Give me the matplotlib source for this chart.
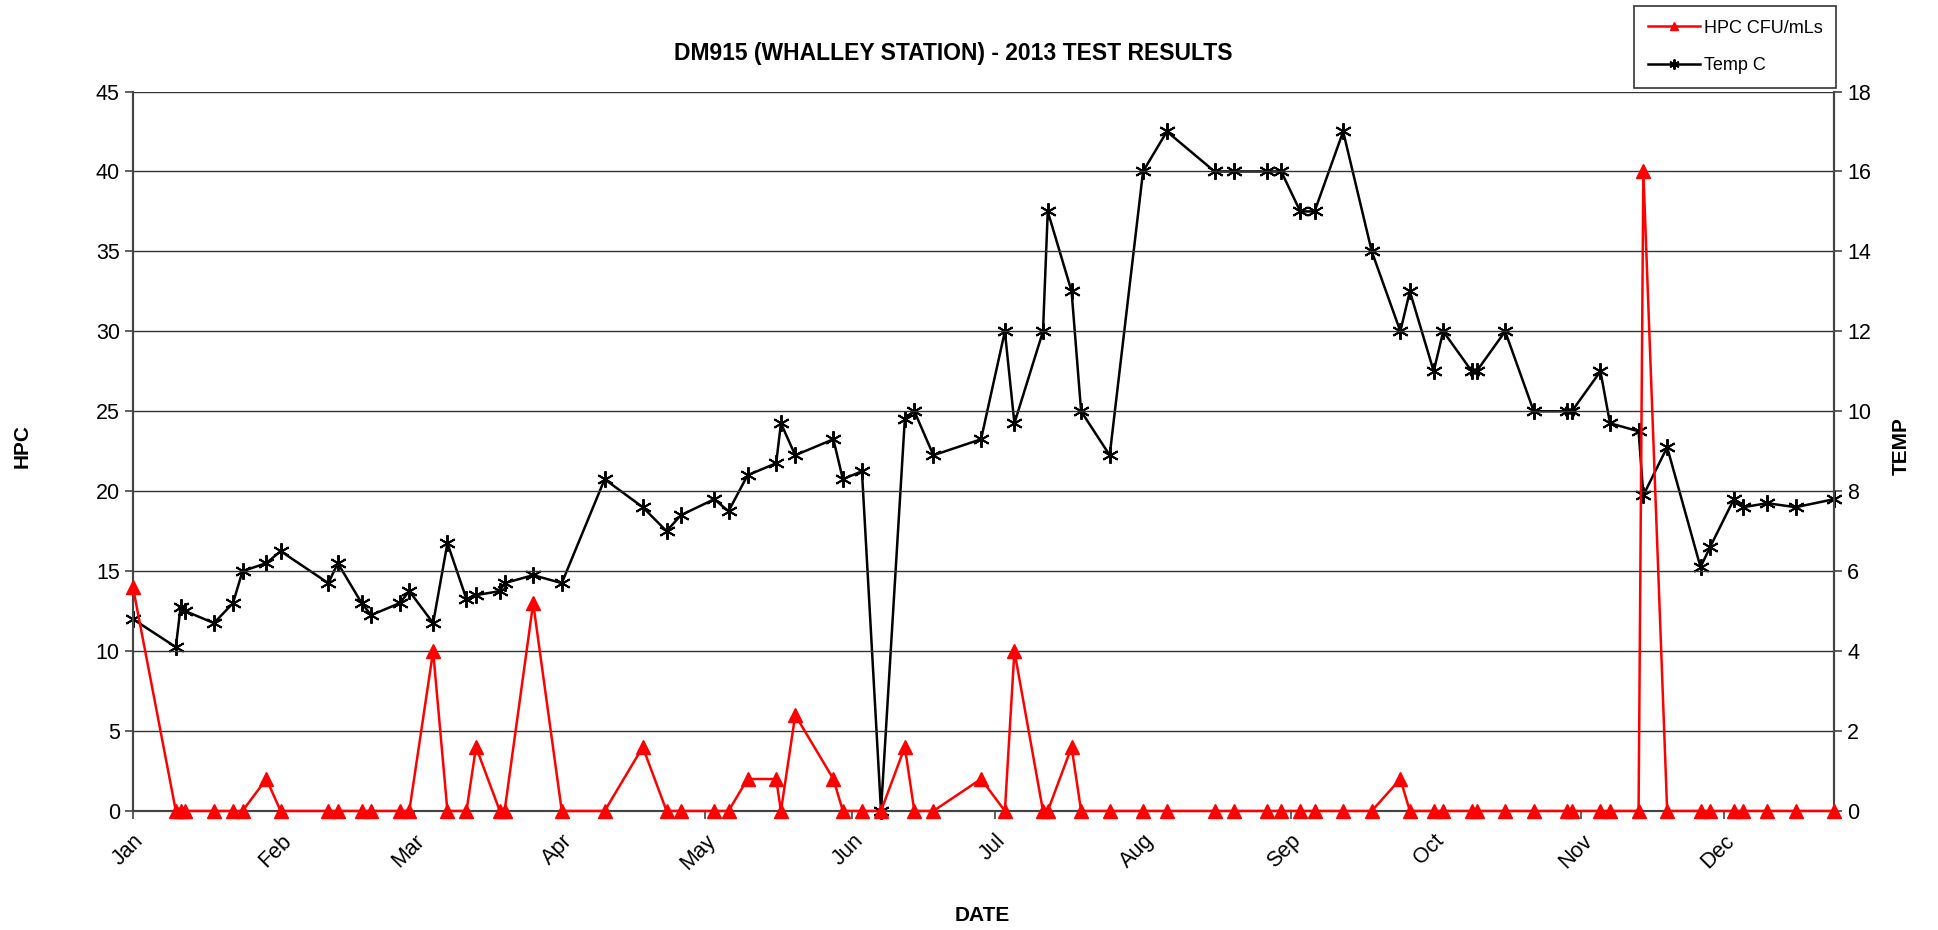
import numpy as np
import pandas as pd
import matplotlib
matplotlib.use('Agg')
import matplotlib.pyplot as plt

plt.rcParams['font.family'] = ['Liberation Sans', 'DejaVu Sans']

# 측정 날짜 (2013)
dates = ['2013-01-01', '2013-01-10', '2013-01-11', '2013-01-12', '2013-01-18', '2013-01-22',
         '2013-01-24', '2013-01-29', '2013-02-01', '2013-02-11', '2013-02-13', '2013-02-18',
         '2013-02-20', '2013-02-26', '2013-02-28', '2013-03-05', '2013-03-08', '2013-03-12',
         '2013-03-14', '2013-03-19', '2013-03-20', '2013-03-26', '2013-04-01', '2013-04-10',
         '2013-04-18', '2013-04-23', '2013-04-26', '2013-05-03', '2013-05-06', '2013-05-10',
         '2013-05-16', '2013-05-17', '2013-05-20', '2013-05-28', '2013-05-30', '2013-06-03',
         '2013-06-07', '2013-06-12', '2013-06-14', '2013-06-18', '2013-06-28', '2013-07-03',
         '2013-07-05', '2013-07-11', '2013-07-12', '2013-07-17', '2013-07-19', '2013-07-25',
         '2013-08-01', '2013-08-06', '2013-08-16', '2013-08-20', '2013-08-27', '2013-08-30',
         '2013-09-03', '2013-09-06', '2013-09-12', '2013-09-18', '2013-09-24', '2013-09-26',
         '2013-10-01', '2013-10-03', '2013-10-09', '2013-10-10', '2013-10-16', '2013-10-22',
         '2013-10-29', '2013-10-30', '2013-11-05', '2013-11-07', '2013-11-13', '2013-11-14',
         '2013-11-19', '2013-11-26', '2013-11-28', '2013-12-03', '2013-12-05', '2013-12-10',
         '2013-12-16', '2013-12-24']

# HPC CFU/mLs
hpc = [14, 0, 0, 0, 0, 0, 0, 2, 0, 0,
       0, 0, 0, 0, 0, 10, 0, 0, 4, 0,
       0, 13, 0, 0, 4, 0, 0, 0, 0, 2,
       2, 0, 6, 2, 0, 0, 0, 4, 0, 0,
       2, 0, 10, 0, 0, 4, 0, 0, 0, 0,
       0, 0, 0, 0, 0, 0, 0, 0, 2, 0,
       0, 0, 0, 0, 0, 0, 0, 0, 0, 0,
       0, 40, 0, 0, 0, 0, 0, 0, 0, 0]

# Temp C
temp = [4.8, 4.1, 5.1, 5.0, 4.7, 5.2, 6.0, 6.2, 6.5, 5.7,
        6.2, 5.2, 4.9, 5.2, 5.5, 4.7, 6.7, 5.3, 5.4, 5.5,
        5.7, 5.9, 5.7, 8.3, 7.6, 7.0, 7.4, 7.8, 7.5, 8.4,
        8.7, 9.7, 8.9, 9.3, 8.3, 8.5, 0, 9.8, 10, 8.9,
        9.3, 12, 9.7, 12, 15, 13, 10, 8.9, 16, 17,
        16, 16, 16, 16, 15, 15, 17, 14, 12, 13,
        11, 12, 11, 11, 12, 10, 10, 10, 11, 9.7,
        9.5, 7.9, 9.1, 6.1, 6.6, 7.8, 7.6, 7.7, 7.6, 7.8]

month_labels = ['Jan', 'Feb', 'Mar', 'Apr', 'May', 'Jun',
                'Jul', 'Aug', 'Sep', 'Oct', 'Nov', 'Dec']

x = pd.to_datetime(dates)

fig = plt.figure(figsize=(19.38, 9.30), dpi=100)
ax = fig.add_axes([0.0686, 0.128, 0.8777, 0.7736])
ax2 = ax.twinx()

# 선 그리기 (마커가 축 경계에서 잘리지 않도록 clip_on=False)
l1, = ax.plot(x, hpc, color='#ff0000', lw=1.8, marker='^', ms=10, mec='#ff0000',
              label='HPC CFU/mLs', zorder=3, clip_on=False)
l2, = ax2.plot(x, temp, color='black', lw=1.8, marker=(6, 2, 0), ms=12, mew=1.4,
               label='Temp C', zorder=3, clip_on=False)
ax.set_zorder(ax2.get_zorder() + 1)
ax.patch.set_visible(False)

# 축 범위
ax.set_xlim(x[0], x[-1])
ax.set_ylim(0, 45)
ax2.set_ylim(0, 18)
ax.set_yticks(np.arange(0, 46, 5))
ax2.set_yticks(np.arange(0, 19, 2))

month_ticks = pd.date_range('2013-01-01', periods=12, freq='MS')
ax.set_xticks(month_ticks)
ax.set_xticklabels(month_labels, rotation=45, ha='right', rotation_mode='anchor')

ax.yaxis.grid(True, color='#333333', lw=1.0)
ax.set_axisbelow(True)

for a in (ax, ax2):
    a.tick_params(labelsize=15.5, direction='out', length=6, width=1.2, color='#444444')
    a.spines['top'].set_visible(False)
    for side in ('left', 'right', 'bottom'):
        a.spines[side].set_color('#444444')
        a.spines[side].set_linewidth(1.5)
ax.tick_params(axis='x', pad=8)

# 축 제목
fig.text(0.0114, 0.52, 'HPC', fontsize=15, fontweight='bold', rotation=90,
         ha='center', va='center')
fig.text(0.981, 0.52, 'TEMP', fontsize=15, fontweight='bold', rotation=90,
         ha='center', va='center')
fig.text(0.507, 0.016, 'DATE', fontsize=15, fontweight='bold', ha='center', va='center')

fig.text(0.492, 0.942, 'DM915 (WHALLEY STATION) - 2013 TEST RESULTS',
         fontsize=16.5, fontweight='bold', ha='center', va='center',
         family=['Liberation Sans Narrow', 'Liberation Sans'])

leg = fig.legend(handles=[l1, l2], loc='upper right', bbox_to_anchor=(0.9475, 0.9935),
                 fontsize=13, frameon=True, fancybox=False, edgecolor='black',
                 handlelength=2.9, labelspacing=1.15, markerscale=0.6,
                 borderpad=0.75, handletextpad=0.2, borderaxespad=0)
leg.get_frame().set_linewidth(1.2)

fig.savefig('out.png', dpi=100)
